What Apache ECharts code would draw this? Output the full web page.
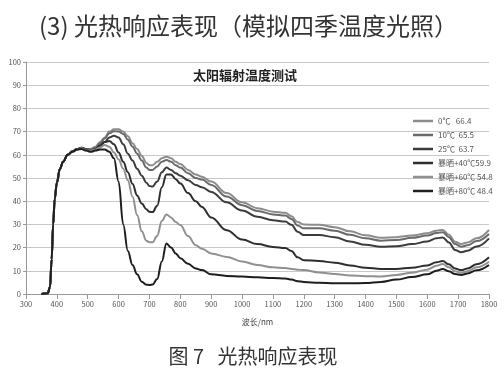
<!DOCTYPE html>
<html><head><meta charset="utf-8">
<script src="https://cdn.jsdelivr.net/npm/echarts@6/dist/echarts.min.js"></script>
<style>html,body{margin:0;padding:0;background:#fff}#c{width:504px;height:387px}</style>
</head><body><div id="c"></div>
<script>
var wavelengths = [350,370,378,383,388,393,400,410,420,435,450,465,480,495,510,525,540,555,570,585,600,615,630,645,660,675,690,700,710,725,740,755,770,785,800,825,850,870,900,950,1000,1050,1100,1140,1160,1180,1200,1250,1300,1350,1400,1450,1500,1550,1600,1630,1650,1670,1690,1710,1730,1760,1800];
var seriesNames = ['0\u2103   66.4','10\u2103  65.5','25\u2103  63.7','\u66b4\u6652+40\u210359.9','\u66b4\u6652+60\u2103 54.8','\u66b4\u6652+80\u2103 48.4'];
var s0 = [0,0.3,3,15,30,41,48, 54,57,60,61.5,62.5,63,62.5, 62.5,63.5,65.5,67.5,70,71,71, 70,68,65,62.5,59.5,56.5,55.5, 55.5,57,58.5,59.2,58.5,57,56, 53.5,51.5,50.5,48.5,43.5,39.5,37, 35.5,35,33.5,31,30,29.8,28.8, 27,25.3,24.2,24.5,25.2,26.2,27.3, 27.6,25.5,22.5,21.6,22.2,24,27.6];
var s1 = [0,0.3,3,15,30,41,48, 54,57,60,61.5,62.5,63,62.5, 62.3,63,65,67,69.3,70.2,70, 69,66.5,63.5,60.5,57.5,54.5,53.5, 53.5,55,57,57.8,57,55.5,54.5, 52,50,49.3,47,42,38.3,35.8, 34.3,33.8,32.3,29.5,28.3,28.3,27.3, 25.5,24,23,23.3,24.2,25.2,26.3, 26.6,24.5,21.5,20.4,21,22.8,25.9];
var s2 = [0,0.3,3,15,30,41,48, 54,57,60,61.5,62.5,63,62.3, 62,62.5,64,65.5,67.5,68.2,67.5, 64.5,60.5,57.5,54,51,48,46.5, 46.3,48.5,52.5,54.5,53.5,52,51, 49,47,46,44,39.5,36,33.3, 31.8,31.2,29.8,26.8,25.4,25.4,24.5, 22.6,21.2,20.4,20.6,21.5,22.6,24, 24.4,22.2,19,18,18.6,20.5,24];
var s3 = [0,0.3,3,15,30,41,48, 54,57,60,61.3,62.3,62.8,62.2, 61.8,62.5,64,65.5,66,64.5,61, 57,52.5,47.5,42.5,39,36.5,35.4, 35.3,38,46,51.5,51.5,49.5,47.6, 43.5,40,37.5,33,27.5,23.5,21.5, 20.3,19.8,18.5,15.8,14.6,14.2,13.5, 12.3,11.3,10.8,10.8,11.3,12.3,13.7, 14.2,12.8,11,10.3,11,12.8,15.8];
var s4 = [0,0.3,3,15,30,41,48, 54,57,60,61.3,62.3,62.8,62, 61.8,62.3,63.2,64.2,63.5,61,58, 54,49,42,34,27,23,22.3, 22.3,25,31.5,34.3,33,31,29.7, 25,21,19.5,17.5,16,14,12.5, 11.5,11.2,10.8,10.5,10.3,9.3,8.6, 8,7.7,7.5,8.2,9.2,10.5,12.2, 12.9,11.5,9.8,9.2,9.8,11.5,13.9];
var s5 = [0,0.3,3,15,30,41,48, 54,57,60,61.3,62.3,62.5,61.8, 61.3,61.8,62.3,62.3,61.3,58.5,48.4, 30,18.5,12.5,8.5,5.3,4,3.9, 4.1,6.5,14,21.8,20,17.5,15.4, 13,11,10.3,8.5,7.8,7.5,7.2, 6.9,6.7,6.2,5.5,5.2,4.8,4.6, 4.6,4.7,5.2,6.2,7.3,8.5,10, 10.8,9.8,8.6,8.2,8.8,10.2,12.5];
var allSeries = [s0,s1,s2,s3,s4,s5];
var colors = ['#8c8c8c','#6a6a6a','#3c3c3c','#2e2e2e','#909090','#1e1e1e'];

var chart = echarts.init(document.getElementById('c'));
var font = '"Noto Sans CJK SC", "DejaVu Sans", sans-serif';
var series = allSeries.map(function(vals, i){
  return {
    name: seriesNames[i], type: 'line', showSymbol: false, smooth: 0.4, smoothMonotone: 'x',
    lineStyle: {width: 2, color: colors[i]}, itemStyle: {color: colors[i]},
    data: wavelengths.map(function(w, j){ return [w, vals[j]]; })
  };
});
chart.setOption({
  animation: false,
  backgroundColor: '#fff',
  title: [
    {text: '(3) \u5149\u70ed\u54cd\u5e94\u8868\u73b0\uff08\u6a21\u62df\u56db\u5b63\u6e29\u5ea6\u5149\u7167\uff09', left: 34, top: 9,
     textStyle: {fontFamily: font, fontSize: 24, fontWeight: 'normal', color: '#333'}},
    {text: '\u592a\u9633\u8f90\u5c04\u6e29\u5ea6\u6d4b\u8bd5', left: 240, top: 64, textAlign: 'center',
     textStyle: {fontFamily: font, fontSize: 13, fontWeight: 'bold', color: '#222'}},
    {text: '\u56fe 7   \u5149\u70ed\u54cd\u5e94\u8868\u73b0', left: 248, top: 341, textAlign: 'center',
     textStyle: {fontFamily: font, fontSize: 20, fontWeight: 'normal', color: '#333'}}
  ],
  legend: {
    orient: 'vertical', left: 408, top: 112, itemGap: 6, itemWidth: 20, itemHeight: 2.5,
    icon: 'rect', textStyle: {fontFamily: font, fontSize: 8, color: '#555'},
    data: seriesNames
  },
  grid: {left: 26, right: 15, top: 62, bottom: 93, outerBoundsMode: 'none'},
  xAxis: {
    type: 'value', min: 300, max: 1800, interval: 100,
    name: '\u6ce2\u957f/nm', nameLocation: 'middle', nameGap: 24,
    nameTextStyle: {fontFamily: font, fontSize: 8, color: '#444'},
    axisLine: {lineStyle: {color: '#999'}}, axisTick: {show: true, lineStyle: {color: '#999'}},
    axisLabel: {fontSize: 7.5, color: '#555', margin: 6, fontFamily: font, formatter: function(v){ return String(v); }},
    splitLine: {show: false}
  },
  yAxis: {
    type: 'value', min: 0, max: 100, interval: 10,
    name: '\u900f\u5149\u7387', nameLocation: 'middle', nameGap: 20, nameRotate: 90,
    nameTextStyle: {fontFamily: font, fontSize: 8, color: '#444'},
    axisLine: {show: true, lineStyle: {color: '#999'}}, axisTick: {show: true, length: 3, lineStyle: {color: '#999'}},
    axisLabel: {fontSize: 7.5, color: '#555', margin: 5, fontFamily: font},
    splitLine: {lineStyle: {color: '#c8c8c8', width: 1}}
  },
  series: series
});
</script></body></html>
